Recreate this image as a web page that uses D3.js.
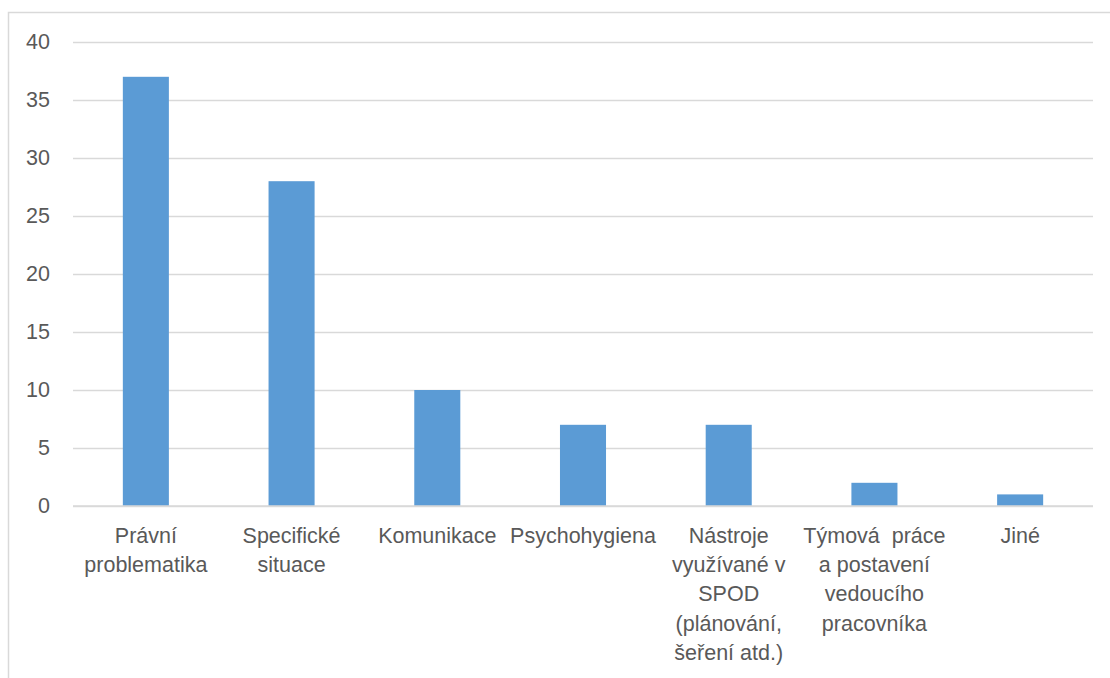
<!DOCTYPE html>
<html>
<head>
<meta charset="utf-8">
<script src="https://cdn.jsdelivr.net/npm/d3@7"></script>
<style>
  html, body { margin: 0; padding: 0; background: #fff; }
  svg text { font-family: "Liberation Sans", Arial, sans-serif; fill: #595959; }
</style>
</head>
<body>
<svg id="chart" width="1110" height="678"></svg>
<script>
// Categories (each split into its display lines) and counts
const categories = [
  ["Právní", "problematika"],
  ["Specifické", "situace"],
  ["Komunikace"],
  ["Psychohygiena"],
  ["Nástroje", "využívané v", "SPOD", "(plánování,", "šeření atd.)"],
  ["Týmová  práce", "a postavení", "vedoucího", "pracovníka"],
  ["Jiné"]
];
const values = [37, 28, 10, 7, 7, 2, 1];
const yTicks = [0, 5, 10, 15, 20, 25, 30, 35, 40];

const svg = d3.select("#chart");
const plotLeft = 73, plotRight = 1093, plotTop = 42, plotBottom = 506;

// Outer chart frame
svg.append("rect")
  .attr("x", 8.5).attr("y", 12.5)
  .attr("width", 1120).attr("height", 700)
  .attr("fill", "none").attr("stroke", "#d9d9d9").attr("stroke-width", 1.5);

const keys = categories.map((c, i) => i);
const x = d3.scaleBand().domain(keys).range([plotLeft, plotRight])
  .paddingInner(0.684).paddingOuter(0.342);
const y = d3.scaleLinear().domain([0, 40]).range([plotBottom, plotTop]);

// Gridlines and value ticks
const yAxis = d3.axisLeft(y).tickValues(yTicks).tickSize(-(plotRight - plotLeft)).tickPadding(23);
const gy = svg.append("g").attr("transform", `translate(${plotLeft},0)`).call(yAxis);
gy.select(".domain").remove();
gy.selectAll(".tick line").attr("stroke", "#d9d9d9").attr("stroke-width", 1.5);
gy.selectAll(".tick text").attr("font-size", 21.5).attr("fill", "#595959")
  .style("font-family", '"Liberation Sans", Arial, sans-serif');

// Bars
svg.append("g").selectAll("rect").data(values).join("rect")
  .attr("x", (d, i) => x(i))
  .attr("y", d => y(d))
  .attr("width", x.bandwidth())
  .attr("height", d => y(0) - y(d))
  .attr("fill", "#5b9bd5");

// Baseline
svg.append("line")
  .attr("x1", plotLeft).attr("x2", plotRight)
  .attr("y1", y(0)).attr("y2", y(0))
  .attr("stroke", "#d9d9d9").attr("stroke-width", 1.5);

// Category labels
const labels = svg.append("g").selectAll("text").data(categories).join("text")
  .attr("text-anchor", "middle")
  .attr("font-size", 21.5)
  .style("white-space", "pre")
  .attr("transform", (d, i) => `translate(${x(i) + x.bandwidth() / 2},543)`);
labels.selectAll("tspan").data(d => d).join("tspan")
  .attr("x", 0)
  .attr("y", (d, j) => j * 29.2)
  .text(d => d);
</script>
</body>
</html>
